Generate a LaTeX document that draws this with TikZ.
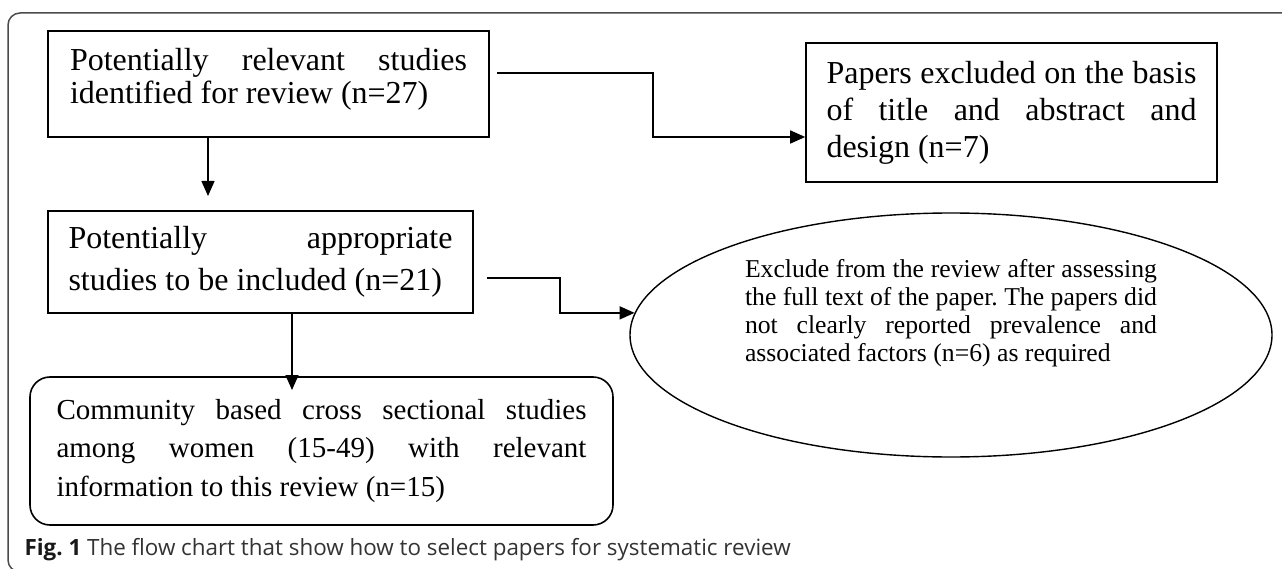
\documentclass[tikz,border=0pt]{standalone}
\usepackage{fontspec}
\setmainfont{Liberation Serif}
\newfontfamily\capfont{Open Sans}
\usepackage{xcolor}
\usetikzlibrary{shapes, arrows.meta}
\tikzstyle{line} = [draw, line width=1.6pt, -{Triangle[length=15pt,width=13pt]}]
\tikzstyle{block} = [draw, rectangle, line width=1.6pt, align=justify, inner sep=0pt]
\tikzstyle{rblock} = [block, rounded corners=20pt]
\tikzstyle{oval} = [draw, ellipse, line width=1.4pt, align=justify, inner sep=0pt]
\tikzstyle{frame} = [draw=black!70, line width=1.5pt, rounded corners=12pt]
\definecolor{captext}{HTML}{333333}
\tolerance=9999
\hyphenpenalty=10000
\exhyphenpenalty=10000
\frenchspacing

\begin{document}
\begin{tikzpicture}[x=1pt, y=-1pt]
		\useasboundingbox (0,0) rectangle (1282,569);
		\draw[frame] (1290,13) -- (8,13) -- (8,572) -- (40,572);
		\node[block, minimum width=441pt, minimum height=106pt, text width=397pt, font=\fontsize{32}{33}\selectfont] (ident) at (268.5,84) {Potentially relevant studies identified for review (n=27)\\[-16pt]\mbox{}};
		\node[block, minimum width=411pt, minimum height=139pt, text width=370pt, font=\fontsize{32}{37}\selectfont] (excl1) at (1011.5,112.5) {Papers excluded on the basis of title and abstract and design (n=7)};
		\node[block, minimum width=425pt, minimum height=102pt, text width=384pt, font=\fontsize{32}{42}\selectfont] (incl) at (260.5,262) {Potentially appropriate\linebreak studies to be included (n=21)};
		\node[oval, minimum width=642pt, minimum height=244pt, text width=412pt, font=\fontsize{25.7}{28}\selectfont] (excl2) at (951,335) {Exclude from the review after assessing the full text of the paper. The papers did\linebreak not clearly reported prevalence and\linebreak associated factors (n=6) as required\\[22pt]\mbox{}};
		\node[rblock, minimum width=583pt, minimum height=148pt, text width=530pt, font=\fontsize{29}{38.5}\selectfont] (final) at (321.5,451) {Community based cross sectional studies among women (15-49) with relevant information to this review (n=15)};
		% arrows
		\coordinate (t1) at (208,196);
		\draw[line] (ident.south -| t1) -- (t1);
		\coordinate (t2) at (292,390);
		\draw[line] (incl.south -| t2) -- (t2);
		\coordinate (s1) at (497,73);
		\draw[line] (s1) -- (653,73) |- (excl1.west |- 0,137);
		\coordinate (s2) at (487,278);
		\draw[line] (s2) -- (560,278) |- (excl2.176);
		\node[anchor=base west, font=\capfont\fontsize{22.4}{26}\selectfont, text=captext] (cap) at (21,555) {{\color{black!90}\textbf{Fig. 1}} The flow chart that show how to select papers for systematic review};
	\end{tikzpicture}
\end{document}
